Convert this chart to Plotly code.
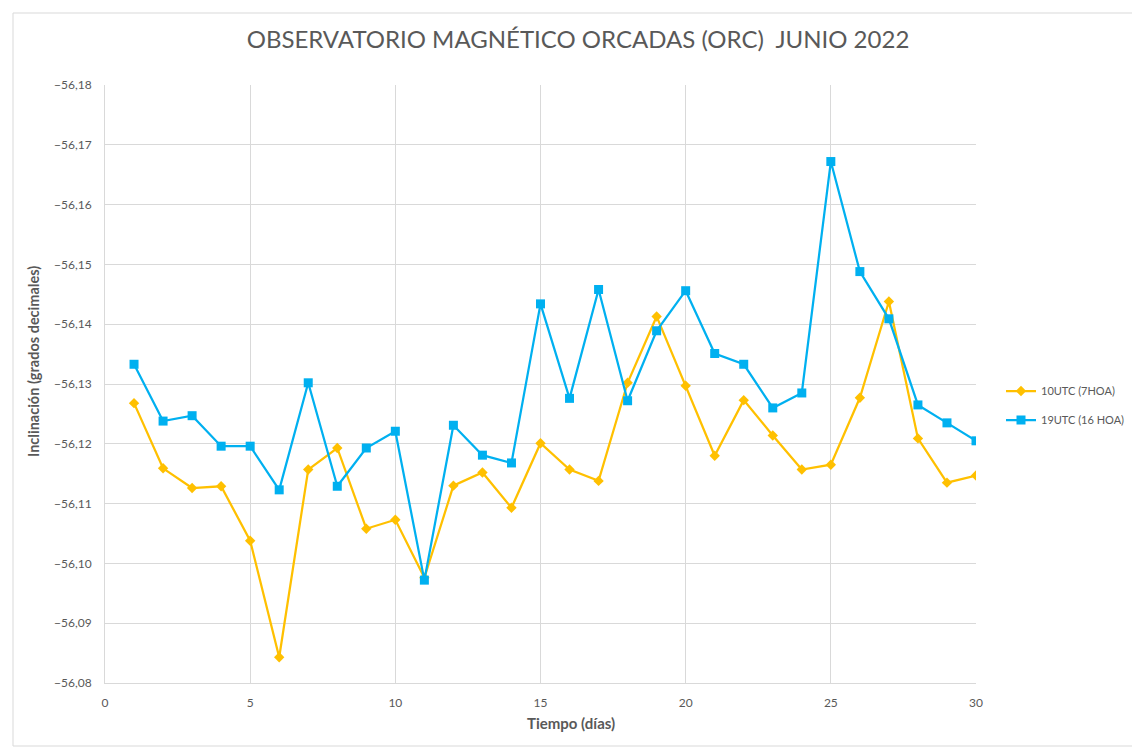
import plotly.graph_objects as go

dias = list(range(1, 31))
utc10 = [-56.1268, -56.1159, -56.1126, -56.1129, -56.1038, -56.0843, -56.1157, -56.1193, -56.1058, -56.1073,
         -56.0976, -56.1130, -56.1152, -56.1093, -56.1201, -56.1157, -56.1138, -56.1302, -56.1413, -56.1297,
         -56.1180, -56.1273, -56.1214, -56.1157, -56.1165, -56.1277, -56.1438, -56.1209, -56.1135, -56.1147]
utc19 = [-56.1333, -56.1238, -56.1247, -56.1196, -56.1196, -56.1123, -56.1302, -56.1129, -56.1193, -56.1221,
         -56.0972, -56.1231, -56.1181, -56.1168, -56.1434, -56.1276, -56.1458, -56.1272, -56.1389, -56.1456,
         -56.1351, -56.1333, -56.1260, -56.1285, -56.1672, -56.1488, -56.1409, -56.1265, -56.1235, -56.1205]

FONT = "Lato"
GREY = "#595959"

# page is offset by 8px (body margin); figure sized to compensate
W, H = 1132, 743
L, R, T, B = 97, 164, 77, 68
PW, PH = W - L - R, H - T - B  # 871 x 598

fig = go.Figure()
fig.add_trace(go.Scatter(x=dias, y=utc10, mode="lines+markers", name="10UTC (7HOA)", legendgroup="a",
                         line=dict(color="#FFC000", width=2.25),
                         marker=dict(symbol="diamond", size=8, color="#FFC000")))
fig.add_trace(go.Scatter(x=dias, y=utc19, mode="lines+markers", name="19UTC (16 HOA)", legendgroup="b",
                         line=dict(color="#00B0F0", width=2.25),
                         marker=dict(symbol="square", size=9, color="#00B0F0")))

fig.update_layout(
    width=W, height=H,
    paper_bgcolor="white", plot_bgcolor="white",
    margin=dict(l=L, r=R, t=T, b=B, autoexpand=False),
    separators=",.",
    font=dict(family=FONT, color=GREY, size=12),
    title=dict(text="OBSERVATORIO MAGNÉTICO ORCADAS (ORC)  JUNIO 2022",
               x=(578 - 8) / W, xref="container", y=1 - 32 / H, yref="container",
               xanchor="center", yanchor="middle",
               font=dict(family=FONT, size=24, color=GREY)),
    legend=dict(x=1 + 25 / PW, y=(683 - 405.5) / PH, xanchor="left", yanchor="middle",
                font=dict(family=FONT, size=11, color=GREY), tracegroupgap=10,
                bgcolor="rgba(0,0,0,0)"),
    xaxis=dict(range=[0, 30], dtick=5, tick0=0, showgrid=True, gridcolor="#D9D9D9", gridwidth=1,
               showline=True, linecolor="#D9D9D9", linewidth=1, zeroline=False, ticks="",
               ticklabelstandoff=9,
               tickfont=dict(family=FONT, size=12, color=GREY)),
    yaxis=dict(range=[-56.08, -56.18], dtick=0.01, tick0=-56.18, tickformat=".2f",
               showgrid=True, gridcolor="#D9D9D9", gridwidth=1,
               showline=True, linecolor="#D9D9D9", linewidth=1, zeroline=False, ticks="",
               ticklabelstandoff=10,
               tickfont=dict(family=FONT, size=12, color=GREY)),
)
fig.add_annotation(text="<b>Inclinación (grados decimales)</b>", textangle=-90,
                   xref="paper", yref="paper", x=(33 - 105) / PW, y=(683 - 362) / PH,
                   xanchor="center", yanchor="middle", showarrow=False,
                   font=dict(family=FONT, size=14.5, color=GREY))
fig.add_annotation(text="<b>Tiempo (días)</b>",
                   xref="paper", yref="paper", x=(571 - 105) / PW, y=-(723 - 683) / PH,
                   xanchor="center", yanchor="middle", showarrow=False,
                   font=dict(family=FONT, size=15, color=GREY))
fig.add_shape(type="rect", xref="paper", yref="paper",
              x0=-(L - 5) / PW, x1=1 + (R - 5) / PW, y0=-(B - 5) / PH, y1=1 + (T - 5) / PH,
              line=dict(color="#D9D9D9", width=1), fillcolor="rgba(0,0,0,0)", layer="below")

fig.write_html("out.html")
